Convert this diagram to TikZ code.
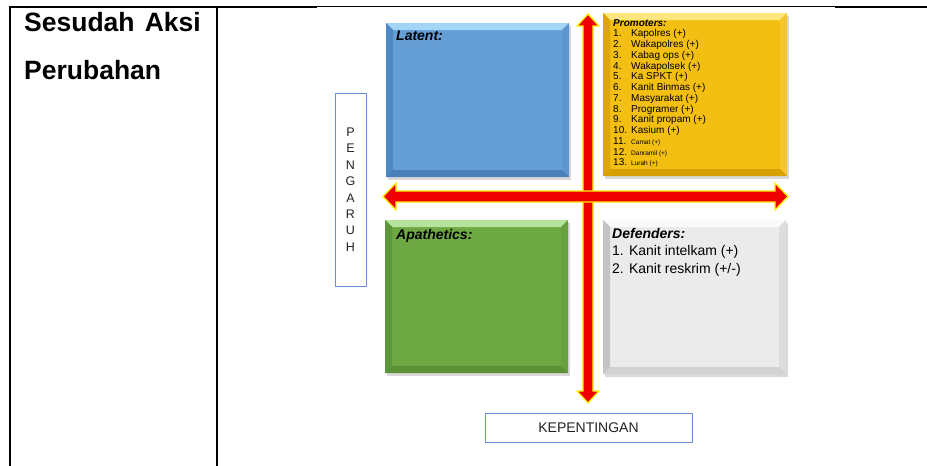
\documentclass[tikz,border=0pt]{standalone}
\usepackage{fontspec}
\setmainfont{Liberation Sans}
\usetikzlibrary{fit}
\definecolor{bBase}{HTML}{659DD5}
\definecolor{bTop}{HTML}{A3D6F6}
\definecolor{bLeft}{HTML}{4F88C6}
\definecolor{bRight}{HTML}{5C95CF}
\definecolor{bBot}{HTML}{4A80BA}
\definecolor{yBase}{HTML}{F3BF12}
\definecolor{yTop}{HTML}{FFE77E}
\definecolor{yLeft}{HTML}{DDA60C}
\definecolor{yRight}{HTML}{F6C52C}
\definecolor{yBot}{HTML}{D8A005}
\definecolor{gBase}{HTML}{6DA843}
\definecolor{gTop}{HTML}{B6E39C}
\definecolor{gLeft}{HTML}{5C973A}
\definecolor{gRight}{HTML}{67A03F}
\definecolor{gBot}{HTML}{5A9134}
\definecolor{wBase}{HTML}{EBEBEB}
\definecolor{wTop}{HTML}{FAFAFA}
\definecolor{wLeft}{HTML}{C4C4C4}
\definecolor{wRight}{HTML}{DDDDDD}
\definecolor{wBot}{HTML}{D2D2D2}
\definecolor{arrRed}{HTML}{EE0000}
\definecolor{arrYel}{HTML}{FFF200}
\definecolor{frameBlue}{HTML}{6A8FD8}
\definecolor{txtGray}{HTML}{222222}
\newcommand\bevelbox[6]{%
  \fill[black!15] (#2+2,#3+3) rectangle (#4+2,#5+3);
  \fill[#6Base] (#2,#3) rectangle (#4,#5);
  \fill[#6Top] (#2,#3) -- (#4,#3) -- (#4-7,#3+7) -- (#2+7,#3+7) -- cycle;
  \fill[#6Left] (#2,#3) -- (#2+7,#3+7) -- (#2+7,#5-7) -- (#2,#5) -- cycle;
  \fill[#6Right] (#4,#3) -- (#4-7,#3+7) -- (#4-7,#5-7) -- (#4,#5) -- cycle;
  \fill[#6Bot] (#2,#5) -- (#2+7,#5-7) -- (#4-7,#5-7) -- (#4,#5) -- cycle;
  \path (#2,#3) coordinate (#1-nw) (#4,#5) coordinate (#1-se);
  \node[fit=(#1-nw)(#1-se), inner sep=0pt] (#1) {};
}
\tikzset{
  tline/.style={line width=2pt},
  thin line/.style={line width=0.9pt},
  boxtitle/.style={anchor=base west, inner sep=0pt, font=\fontsize{14}{16}\selectfont\bfseries\itshape},
  item/.style={anchor=base west, inner sep=0pt, font=\fontsize{14}{16}\selectfont},
  ptitle/.style={anchor=base west, inner sep=0pt, font=\fontsize{10}{11}\selectfont\bfseries\itshape},
  pnum/.style={anchor=base west, inner sep=0pt, font=\fontsize{10}{11}\selectfont},
  psmall/.style={anchor=base west, inner sep=0pt, font=\fontsize{6.5}{7}\selectfont},
  bigarrow/.style={fill=arrRed, draw=arrYel, line width=1.3pt, line join=miter},
  labelbox/.style={draw=frameBlue, line width=0.9pt, fill=white},
  head/.style={anchor=base west, inner sep=0pt, font=\fontsize{26.5}{29}\selectfont\bfseries}
}
\begin{document}
\begin{tikzpicture}[x=1pt,y=-1pt]
\useasboundingbox (0,0) rectangle (927,466);
% table lines
\coordinate (t0) at (9,6.5);
\coordinate (t1) at (317,6.5);
\coordinate (t2) at (835,6.5);
\coordinate (t3) at (927,6.5);
\coordinate (b0) at (10,466);
\coordinate (b1) at (216.5,466);
\coordinate (m1) at (216.5,6.5);
\coordinate (l1) at (10,6.5);
\draw[tline] (t0) -- (t1);
\draw[thin line] (t1) -- (t2);
\draw[tline] (t2) -- (t3);
\draw[tline] (l1) -- (b0);
\draw[tline] (m1) -- (b1);
\node[head] (h1) at (24,31) {Sesudah};
\node[head, anchor=base east] (h2) at (201,31) {Aksi};
\node[head] (h3) at (24,79) {Perubahan};
% boxes
\bevelbox{latent}{386}{23}{569}{177}{b}
\bevelbox{prom}{603}{13}{787}{176}{y}
\bevelbox{apat}{385}{220}{568}{373}{g}
\bevelbox{def}{603}{220}{786}{374}{w}
% arrows
\coordinate (vt) at (588,14);
\coordinate (vb) at (588,403);
\coordinate (hl) at (383,196.5);
\coordinate (hr) at (788,196.5);
\filldraw[bigarrow] (vt) -- (599,26) -- (593,26) -- (593,391) -- (599,391) -- (vb) -- (577,391) -- (583,391) -- (583,26) -- (577,26) -- cycle;
\filldraw[bigarrow] (hl) -- (396,183) -- (396,191) -- (775,191) -- (775,183) -- (hr) -- (775,210) -- (775,202) -- (396,202) -- (396,210) -- cycle;
\fill[arrRed] (583.7,191.7) rectangle (592.3,201.3);
% texts
\node[boxtitle] (lt) at (396,40) {Latent:};
\node[boxtitle] (at) at (396,239) {Apathetics:};
\node[boxtitle] (dt) at (612,238) {Defenders:};
\node[item] (d1) at (612,255.5) {1. Kanit intelkam (+)};
\node[item] (d2) at (612,273) {2. Kanit reskrim (+/-)};
\node[ptitle] (pt) at (613,26) {Promoters:};
\foreach \n/\t [count=\i] in {1./Kapolres (+),2./Wakapolres (+),3./Kabag ops (+),4./Wakapolsek (+),5./Ka SPKT (+),6./Kanit Binmas (+),7./Masyarakat (+),8./Programer (+),9./Kanit propam (+),10./Kasium (+)}{
  \node[pnum] (pn\i) at (613,26+\i*10.75) {\n};
  \node[pnum] (pi\i) at (631,26+\i*10.75) {\t};
}
\foreach \n/\t [count=\i from 11] in {11./Camat (+),12./Danramil (+),13./Lurah (+)}{
  \node[pnum] (pn\i) at (613,26+\i*10.75) {\n};
  \node[psmall] (pi\i) at (631,26+\i*10.75) {\t};
}
% label boxes
\node[labelbox, minimum width=31pt, minimum height=193pt, inner sep=0pt] (peng) at (350.5,189.5) {};
\node[anchor=center, align=center, inner sep=0pt, text=txtGray, font=\fontsize{12.5}{16.4}\selectfont] (pengt) at (350.5,189.5) {P\\E\\N\\G\\A\\R\\U\\H};
\node[labelbox, minimum width=207pt, minimum height=29pt, inner sep=0pt] (kep) at (588.5,427.5) {};
\node[font=\fontsize{14}{16}\selectfont, text=txtGray, inner sep=0pt] (kept) at (588.5,428) {KEPENTINGAN};
\end{tikzpicture}
\end{document}
